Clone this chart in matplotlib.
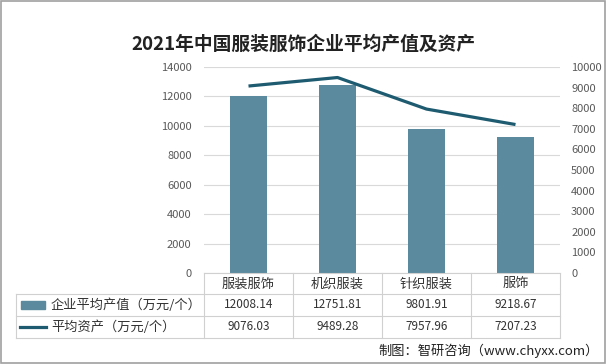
import matplotlib
matplotlib.use("Agg")
import matplotlib.pyplot as plt
from matplotlib.patches import Rectangle
from matplotlib.lines import Line2D

plt.rcParams['font.family'] = ['Noto Sans CJK SC', 'DejaVu Sans']

# data
categories = ['服装服饰', '机织服装', '针织服装', '服饰']
output_vals = [12008.14, 12751.81, 9801.91, 9218.67]
asset_vals = [9076.03, 9489.28, 7957.96, 7207.23]
output_name = '企业平均产值（万元/个）'
asset_name = '平均资产（万元/个）'
title = '2021年中国服装服饰企业平均产值及资产'
source = '制图：智研咨询（www.chyxx.com）'

bar_color = '#5B8A9E'
line_color = '#1E5B70'
grid_color = '#D9D9D9'
text_color = '#595959'

W, H = 606, 364
fig = plt.figure(figsize=(W / 100, H / 100), dpi=100)

# plot area in pixels
x0, x1 = 204, 560
y_top, y_bot = 67, 273
ax = fig.add_axes([x0 / W, 1 - y_bot / H, (x1 - x0) / W, (y_bot - y_top) / H])

xs = list(range(len(categories)))
ax.bar(xs, output_vals, width=0.42, color=bar_color, zorder=2)
ax.set_xlim(-0.5, len(categories) - 0.5)
ax.set_ylim(0, 14000)
ax.set_yticks(range(0, 14001, 2000))
ax.yaxis.grid(True, color=grid_color, linewidth=0.8, zorder=0)
ax.set_xticks([])
for s in ax.spines.values():
    s.set_visible(False)
ax.tick_params(axis='y', length=0, labelsize=8, labelcolor=text_color, pad=9)

ax2 = ax.twinx()
ax2.plot(xs, asset_vals, color=line_color, linewidth=2.3, solid_capstyle='butt', zorder=3)
ax2.set_ylim(0, 10000)
ax2.set_yticks(range(0, 10001, 1000))
for s in ax2.spines.values():
    s.set_visible(False)
ax2.tick_params(axis='y', length=0, labelsize=8, labelcolor=text_color, pad=8)

# title
fig.text(0.5, 1 - 44 / H, title, ha='center', va='center', fontsize=13.5,
         color='#222222', fontweight='bold')

# data table
def fx(px):
    return px / W

def fy(py):
    return 1 - py / H

tcol = '#D0D0D0'
col_w = (x1 - x0) / len(categories)
row_h = [273, 294, 316, 338]
# horizontal lines
fig.add_artist(Line2D([fx(x0), fx(x1)], [fy(row_h[0])] * 2, color=tcol, lw=0.8))
for yy in row_h[1:]:
    fig.add_artist(Line2D([fx(16), fx(x1)], [fy(yy)] * 2, color=tcol, lw=0.8))
# vertical lines
for i in range(len(categories) + 1):
    xx = x0 + i * col_w
    fig.add_artist(Line2D([fx(xx)] * 2, [fy(row_h[0]), fy(row_h[3])], color=tcol, lw=0.8))
fig.add_artist(Line2D([fx(16)] * 2, [fy(row_h[1]), fy(row_h[3])], color=tcol, lw=0.8))

for i, c in enumerate(categories):
    cx = x0 + (i + 0.5) * col_w
    fig.text(fx(cx), fy(284), c, ha='center', va='center', fontsize=9.5, color='#333333')
    fig.text(fx(cx), fy(305), f'{output_vals[i]:.2f}', ha='center', va='center',
             fontsize=8.5, color='#333333')
    fig.text(fx(cx), fy(327), f'{asset_vals[i]:.2f}', ha='center', va='center',
             fontsize=8.5, color='#333333')

# legend keys in the table
fig.add_artist(Rectangle((fx(21), fy(309)), fx(24), 8 / H, color=bar_color))
fig.add_artist(Line2D([fx(20), fx(46)], [fy(327)] * 2, color=line_color, lw=2.3))
fig.text(fx(51), fy(305), output_name, ha='left', va='center', fontsize=9.5, color='#333333')
fig.text(fx(51), fy(327), asset_name, ha='left', va='center', fontsize=9.5, color='#333333')

# source
fig.text(fx(599), fy(351), source, ha='right', va='center', fontsize=9.5, color='#222222')

# outer frame
fig.add_artist(Rectangle((0.002, 0.003), 0.996, 0.994, fill=False, edgecolor='#A0A0A0',
                         lw=1.2, transform=fig.transFigure))

fig.savefig('out.png', dpi=100)
